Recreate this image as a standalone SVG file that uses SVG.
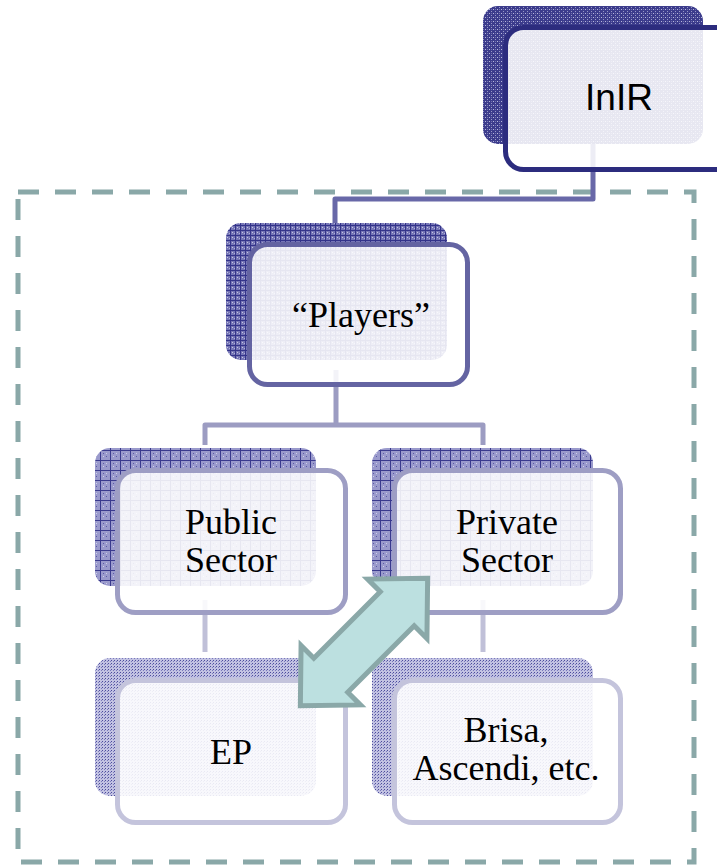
<svg xmlns="http://www.w3.org/2000/svg" width="717" height="866" viewBox="0 0 717 866">
<style>
.front{fill:#ffffff;fill-opacity:0.88;stroke-width:5}
.lbl{font-family:"Liberation Serif","Times New Roman",serif;font-size:36px;fill:#000;text-anchor:middle}
.conn{fill:none;stroke-width:5;stroke-linejoin:round}
</style>
<defs>
<pattern id="pInIR" width="4" height="4" patternUnits="userSpaceOnUse">
<rect width="4" height="4" fill="#3c3c8c"/>
<rect x="1" y="1" width="1" height="1" fill="#b8b8dc"/>
<rect x="3" y="3" width="1" height="1" fill="#9898c8"/>
<rect x="3" y="1" width="1" height="1" fill="#7070b0"/>
</pattern>
<pattern id="pPlayers" width="5" height="5" patternUnits="userSpaceOnUse">
<rect width="5" height="5" fill="#7676b6"/>
<rect width="5" height="1" fill="#34348a"/>
<rect width="1" height="5" fill="#34348a"/>
<rect x="2" y="2" width="1" height="1" fill="#c4c4e2"/>
<rect x="4" y="3" width="1" height="1" fill="#b0b0d8"/>
</pattern>
<pattern id="pSector" width="10" height="10" patternUnits="userSpaceOnUse">
<rect width="10" height="10" fill="#9a9acc"/>
<rect width="10" height="1" fill="#3a3a8e"/>
<rect width="1" height="10" fill="#3a3a8e"/>
<rect x="3" y="3" width="1" height="1" fill="#5a5aa6"/>
<rect x="6" y="6" width="1" height="1" fill="#5a5aa6"/>
<rect x="3" y="6" width="1" height="1" fill="#d0d0ea"/>
<rect x="6" y="3" width="1" height="1" fill="#d0d0ea"/>
</pattern>
<pattern id="pLeaf" width="3" height="3" patternUnits="userSpaceOnUse">
<rect width="3" height="3" fill="#c2c2e2"/>
<rect width="1" height="1" fill="#4c4c9c"/>
<rect x="2" y="1" width="1" height="1" fill="#7a7abc"/>
</pattern>
</defs>

<rect id="boundary" x="18" y="192" width="676" height="670" fill="none" stroke="#8aa8a8" stroke-width="5" stroke-dasharray="21 16"/>

<g id="connectors">
<path class="conn" d="M593 140 V199 H335 V260" stroke="#6868a8"/>
<path class="conn" d="M336 370 V425 M205 445 V425 H483 V445" stroke="#9c9cc2"/>
<path class="conn" d="M205 600 V652" stroke="#c0c0d8"/>
<path class="conn" d="M483 600 V652" stroke="#c0c0d8"/>
</g>

<g id="inir">
<rect x="483" y="6" width="220" height="138" rx="15" fill="url(#pInIR)"/>
<rect class="front" x="505.5" y="27.5" width="230" height="142" rx="18" stroke="#2c2c7e"/>
<text x="619" y="110" font-family="Liberation Sans, Arial, sans-serif" font-size="37" text-anchor="middle" fill="#000">InIR</text>
</g>

<g id="players">
<rect x="226" y="223" width="221" height="137" rx="15" fill="url(#pPlayers)"/>
<rect class="front" x="249.5" y="244.5" width="218" height="140" rx="18" stroke="#6464a2"/>
<text class="lbl" x="361" y="327">“Players”</text>
</g>

<g id="public">
<rect x="95" y="448" width="221" height="138" rx="15" fill="url(#pSector)"/>
<rect class="front" x="117.5" y="470.5" width="228" height="142" rx="18" stroke="#9e9ec4"/>
<text class="lbl" x="231" y="534">Public</text>
<text class="lbl" x="231" y="572">Sector</text>
</g>

<g id="private">
<rect x="372" y="448" width="221" height="138" rx="15" fill="url(#pSector)"/>
<rect class="front" x="394.5" y="470.5" width="226" height="142" rx="18" stroke="#9e9ec4"/>
<text class="lbl" x="507" y="534">Private</text>
<text class="lbl" x="507" y="572">Sector</text>
</g>

<g id="ep">
<rect x="95" y="658" width="221" height="138" rx="15" fill="url(#pLeaf)"/>
<rect class="front" x="117.5" y="680.5" width="228" height="142" rx="18" stroke="#c4c4dc"/>
<text class="lbl" x="231" y="764">EP</text>
</g>

<g id="brisa">
<rect x="372" y="658" width="221" height="138" rx="15" fill="url(#pLeaf)"/>
<rect class="front" x="394.5" y="680.5" width="226" height="142" rx="18" stroke="#c4c4dc"/>
<text class="lbl" x="506" y="742">Brisa,</text>
<text class="lbl" x="506" y="780">Ascendi, etc.</text>
</g>

<g id="double-arrow">
<path transform="translate(364,642) rotate(-45)" d="M90 0 L47 -42 L47 -24 L-47 -24 L-47 -42 L-90 0 L-47 42 L-47 24 L47 24 L47 42 Z" fill="#bce0e0" stroke="#8aa8a8" stroke-width="5" stroke-linejoin="miter"/>
</g>
</svg>
